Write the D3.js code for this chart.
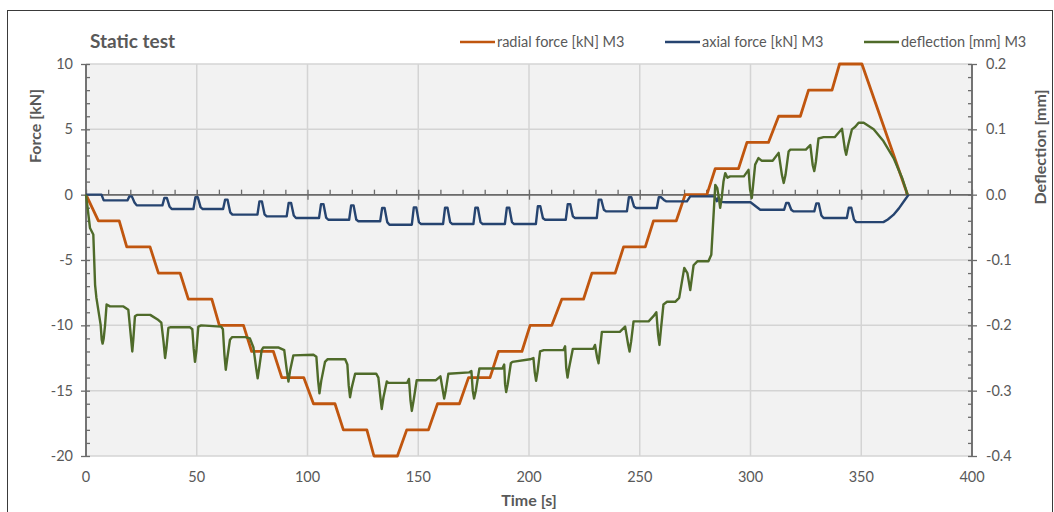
<!DOCTYPE html>
<html>
<head>
<meta charset="utf-8">
<script src="https://cdn.jsdelivr.net/npm/d3@7"></script>
<style>
  body { margin: 0; background: #fff; }
  text { font-family: Lato, "Open Sans", sans-serif; fill: #595959; }
</style>
</head>
<body>
<svg width="1054" height="512"></svg>
<script>
// Data: [time s, value]
const radialForce = [
  [0,0],[5.6,-2],[15,-2],[18.4,-4],[28.9,-4],[32.7,-6],[42.5,-6],[46.2,-8],[56.8,-8],
  [60.2,-10],[71.1,-10],[74.8,-12],[84.6,-12],[88.4,-14],[98.3,-14],[102.7,-16],[112.4,-16],
  [116.2,-18],[126.8,-18],[130,-20],[140.6,-20],[144.8,-18],[154.6,-18],[158.7,-16],[168.6,-16],
  [172.7,-14],[182.4,-14],[186.2,-12],[196.8,-12],[200.5,-10],[210.3,-10],[214.8,-8],[224.6,-8],
  [228.4,-6],[238.9,-6],[242.7,-4],[252.5,-4],[256.2,-2],[266.5,-2],[270.5,0],[280.3,0],
  [284.1,2],[294.6,2],[298.4,4],[308.1,4],[312.7,6],[322.5,6],[326.2,8],[336.8,8],
  [340.2,10],[350.3,10],[370.9,0]
];

const axialForce = [
  [0,0],[7,0],[8,-0.44],[18.7,-0.44],[19.6,-0.13],[20.7,-0.13],[21.9,-0.6],[22.9,-0.82],
  [34.5,-0.82],[35.4,-0.25],[36.5,-0.25],[37.7,-0.9],[38.7,-1.1],
  [48.5,-1.1],[49.4,-0.2],[50.5,-0.2],[51.7,-0.95],[52.7,-1.1],
  [61.9,-1.1],[62.8,-0.38],[63.9,-0.38],[65.1,-1.35],[66.1,-1.53],
  [77.4,-1.53],[78.3,-0.51],[79.4,-0.51],[80.6,-1.5],[81.6,-1.66],
  [90.6,-1.66],[91.5,-0.64],[92.6,-0.64],[93.8,-1.6],[94.8,-1.79],
  [105.2,-1.79],[106.1,-0.72],[107.2,-0.72],[108.4,-1.75],[109.4,-1.92],
  [118.8,-1.92],[119.7,-0.82],[120.8,-0.82],[122,-1.9],[123,-2.04],
  [132.8,-2.04],[133.7,-1.02],[134.8,-1.02],[136,-2.1],[137,-2.3],
  [147.1,-2.3],[148,-0.97],[149.1,-0.97],[150.3,-2.1],[151.3,-2.25],
  [161.2,-2.25],[162.1,-1.0],[163.2,-1.0],[164.4,-2.1],[165.4,-2.25],
  [174.9,-2.25],[175.8,-1.0],[176.9,-1.0],[178.1,-2.1],[179.1,-2.25],
  [189.1,-2.25],[190,-1.0],[191.1,-1.0],[192.3,-2.1],[193.3,-2.25],
  [203.1,-2.25],[204,-0.89],[205.1,-0.89],[206.3,-1.8],[207.3,-1.92],
  [216.6,-1.92],[217.5,-0.72],[218.6,-0.72],[219.8,-1.65],[220.8,-1.79],
  [230.6,-1.79],[231.5,-0.38],[232.6,-0.38],[233.8,-1.15],[234.8,-1.28],
  [244.2,-1.28],[245.1,-0.2],[246.2,-0.2],[247.4,-0.9],[248.4,-1.02],
  [257.7,-1.02],[258.6,-0.2],[259.7,-0.2],[260.9,-0.4],[261.9,-0.51],
  [271.3,-0.51],[272.8,-0.13],[283.8,-0.13],[284.8,-0.5],[285.6,-0.2],[286.4,-0.55],
  [289,-0.58],[300,-0.58],[304.4,-1.15],[315.2,-1.15],[316.1,-0.64],[317.2,-0.64],
  [318.4,-1.15],[319.4,-1.28],[328.8,-1.28],[329.7,-0.67],[330.8,-0.67],[332,-1.6],
  [333,-1.79],[343.5,-1.79],[344.4,-1.0],[345.5,-1.0],[346.7,-1.9],[347.7,-2.1],
  [360,-2.1],[362,-1.9],[364.5,-1.55],[367,-1.05],[369.5,-0.45],[371.4,0]
];

const deflection = [
  [0,0],[1.8,-0.051],[3.3,-0.061],[4.1,-0.138],[4.7,-0.158],[6.6,-0.199],[7.1,-0.222],[7.5,-0.228],
  [8,-0.22],[8.6,-0.2],[9.3,-0.168],[10.8,-0.171],[16.9,-0.171],[19.1,-0.176],[20.2,-0.215],[20.9,-0.24],[21.4,-0.22],[22.1,-0.186],
  [23,-0.184],[29,-0.184],[32.7,-0.192],[34,-0.196],[35,-0.225],[35.7,-0.25],[36.3,-0.235],[37.2,-0.204],[38,-0.203],
  [47,-0.203],[48,-0.206],[48.6,-0.235],[49.2,-0.256],[49.8,-0.24],[50.7,-0.202],[52,-0.2],[61,-0.202],[61.8,-0.206],
  [62.5,-0.245],[63.1,-0.268],[63.8,-0.25],[65,-0.222],[66,-0.218],[72,-0.218],[74,-0.22],[75.6,-0.234],[76.8,-0.265],[77.5,-0.281],
  [78.2,-0.265],[79.3,-0.238],[80,-0.234],[87,-0.234],[89.5,-0.238],[90.7,-0.27],[91.4,-0.286],[92.1,-0.27],[93.6,-0.246],[102.7,-0.245],
  [104,-0.248],[104.8,-0.285],[105.4,-0.304],[106.2,-0.285],[107.9,-0.256],[109,-0.252],[117,-0.252],[118,-0.26],[118.6,-0.292],[119.2,-0.31],
  [120,-0.295],[121.5,-0.274],[131,-0.274],[132,-0.28],[132.9,-0.31],[133.5,-0.328],[134.3,-0.31],[135.8,-0.286],[136.5,-0.288],[145,-0.288],
  [145.8,-0.282],[146.5,-0.315],[147.1,-0.331],[147.9,-0.315],[149.3,-0.284],[158,-0.284],[160,-0.278],[161.1,-0.3],[161.7,-0.312],
  [162.4,-0.3],[163.6,-0.274],[173,-0.272],[174,-0.27],[174.6,-0.3],[175.2,-0.312],[176,-0.3],[177.6,-0.266],[188,-0.266],[188.8,-0.26],
  [189.2,-0.29],[189.7,-0.302],[190.4,-0.29],[191.8,-0.258],[192.5,-0.256],[200.5,-0.252],[202,-0.25],[202.6,-0.272],[203.2,-0.285],
  [203.9,-0.27],[205,-0.24],[206.7,-0.238],[215.5,-0.238],[216.3,-0.232],[216.8,-0.265],[217.4,-0.28],[218.1,-0.265],[219.8,-0.236],
  [229,-0.236],[229.8,-0.23],[230.8,-0.25],[231.4,-0.258],[232.9,-0.21],[241,-0.21],[243.4,-0.202],
  [244.8,-0.23],[245.4,-0.24],[246.1,-0.225],[247.2,-0.194],[254,-0.194],[256.2,-0.186],[257.5,-0.18],[258.3,-0.215],[258.9,-0.23],
  [259.6,-0.205],[260.7,-0.168],[262.3,-0.164],[266,-0.164],[267.8,-0.158],[270.1,-0.112],[271.5,-0.12],
  [272.8,-0.146],[274.3,-0.108],[276,-0.102],[281,-0.102],[282.3,-0.092],[284.1,0.015],
  [285,0.01],[285.7,-0.005],[286.3,-0.02],[287,-0.005],[287.8,0.02],[288.6,0.033],[289.6,0.026],
  [290.8,0.028],[297,0.028],[299.1,0.038],[299.8,0.008],[300.6,-0.005],[302.1,0.046],
  [303.6,0.056],[305,0.052],[310,0.052],[312.7,0.064],[314.2,0.03],[315,0.018],[315.8,0.03],[317.2,0.066],[318,0.069],
  [325,0.069],[327,0.076],[328.1,0.045],[328.8,0.036],[329.5,0.05],[330.7,0.086],[333,0.088],[338,0.088],[341.3,0.101],
  [342.6,0.07],[343.2,0.061],[344,0.075],[345.8,0.1],[347.3,0.104],[348.8,0.11],[351.1,0.11],[355.6,0.1],[360,0.082],
  [364.6,0.056],[368.4,0.026],[370.9,0]
];

const xTicks = [0, 50, 100, 150, 200, 250, 300, 350, 400];
const forceTicks = [-20, -15, -10, -5, 0, 5, 10];
const deflTicks = [-0.4, -0.3, -0.2, -0.1, 0, 0.1, 0.2];

const series = [
  { name: "radial force [kN] M3", data: radialForce, axis: "left", color: "#c0560f", width: 2.8, lx: 460 },
  { name: "axial force [kN] M3", data: axialForce, axis: "left", color: "#264470", width: 2.4, lx: 665 },
  { name: "deflection [mm] M3", data: deflection, axis: "right", color: "#4f6b2a", width: 2.4, lx: 864 }
];

const plot = { left: 86, right: 972, top: 64, bottom: 456 };

const svg = d3.select("svg");

const x = d3.scaleLinear().domain([0, 400]).range([plot.left, plot.right]);
const yL = d3.scaleLinear().domain([-20, 10]).range([plot.bottom, plot.top]);
const yR = d3.scaleLinear().domain([-0.4, 0.2]).range([plot.bottom, plot.top]);

// chart border (cropped at the bottom in the reference)
svg.append("rect")
    .attr("x", 7.5).attr("y", 10.5)
    .attr("width", 1045).attr("height", 520)
    .style("fill", "none")
    .style("stroke", "#3a3a3a")
    .style("stroke-width", 1);

// plot background
svg.append("rect")
    .attr("x", plot.left).attr("y", plot.top)
    .attr("width", plot.right - plot.left).attr("height", plot.bottom - plot.top)
    .style("fill", "#f2f2f2");

// gridlines
svg.append("g").selectAll("line")
    .data(xTicks.slice(1, -1))
    .enter().append("line")
    .attr("x1", d => x(d)).attr("x2", d => x(d))
    .attr("y1", plot.top).attr("y2", plot.bottom)
    .style("stroke", "#d4d4d4").style("stroke-width", 1.5);

svg.append("g").selectAll("line")
    .data(forceTicks)
    .enter().append("line")
    .attr("x1", plot.left).attr("x2", plot.right)
    .attr("y1", d => yL(d)).attr("y2", d => yL(d))
    .style("stroke", "#d4d4d4").style("stroke-width", 1.5);

// axes
const axisColor = "#6b6b6b";

const left = svg.append("g").attr("transform", `translate(${plot.left},0)`);
left.call(d3.axisLeft(yL).tickValues(forceTicks).tickSize(5).tickFormat(""));
left.append("g").call(d3.axisRight(yL).ticks(30).tickSize(4).tickFormat(""));

const right = svg.append("g").attr("transform", `translate(${plot.right},0)`);
right.call(d3.axisRight(yR).tickValues(deflTicks).tickSize(5).tickFormat(""));
right.append("g").call(d3.axisLeft(yR).ticks(30).tickSize(4).tickFormat(""));

const bottom = svg.append("g").attr("transform", `translate(0,${yL(0)})`);
bottom.call(d3.axisTop(x).ticks(40).tickSize(5).tickFormat(""));
bottom.append("g").call(d3.axisBottom(x).tickValues(xTicks).tickSize(5).tickFormat(""));

svg.selectAll(".domain").style("stroke", axisColor).style("stroke-width", 1.5);
svg.selectAll(".tick line").style("stroke", axisColor).style("stroke-width", 1.3);
left.selectAll(".domain").attr("d", `M0,${plot.top}V${plot.bottom}`);
right.selectAll(".domain").attr("d", `M0,${plot.top}V${plot.bottom}`);
bottom.selectAll(".domain").attr("d", `M${plot.left},0H${plot.right}`);

// tick labels
svg.append("g").selectAll("text")
    .data(forceTicks)
    .enter().append("text")
    .attr("x", 73).attr("y", d => yL(d))
    .attr("dy", "0.35em")
    .attr("text-anchor", "end")
    .style("font-size", "14.5px")
    .text(d => d);

svg.append("g").selectAll("text")
    .data(deflTicks)
    .enter().append("text")
    .attr("x", 986).attr("y", d => yR(d))
    .attr("dy", "0.35em")
    .style("font-size", "14.5px")
    .text(d => d.toFixed(1));

svg.append("g").selectAll("text")
    .data(xTicks)
    .enter().append("text")
    .attr("x", d => x(d)).attr("y", 477)
    .attr("dy", "0.35em")
    .attr("text-anchor", "middle")
    .style("font-size", "14.5px")
    .text(d => d);

// axis titles
svg.append("text")
    .attr("transform", "translate(41,126) rotate(-90)")
    .attr("text-anchor", "middle")
    .style("font-size", "16px").style("font-weight", "bold")
    .text("Force [kN]");

svg.append("text")
    .attr("transform", "translate(1046,147) rotate(-90)")
    .attr("text-anchor", "middle")
    .style("font-size", "16px").style("font-weight", "bold")
    .text("Deflection [mm]");

svg.append("text")
    .attr("x", (plot.left + plot.right) / 2).attr("y", 506)
    .attr("text-anchor", "middle")
    .style("font-size", "16px").style("font-weight", "bold")
    .text("Time [s]");

svg.append("text")
    .attr("x", 90).attr("y", 48)
    .style("font-size", "19px").style("font-weight", "bold")
    .text("Static test");

// series lines
series.forEach(s => {
    const yScale = s.axis === "left" ? yL : yR;
    svg.append("path")
        .datum(s.data)
        .attr("d", d3.line().x(d => x(d[0])).y(d => yScale(d[1])))
        .style("fill", "none")
        .style("stroke", s.color)
        .style("stroke-width", s.width)
        .style("stroke-linejoin", "round");
});

// legend
const legend = svg.append("g").selectAll("g")
    .data(series)
    .enter().append("g")
    .attr("transform", d => `translate(${d.lx},42)`);

legend.append("line")
    .attr("x1", 0).attr("x2", 35)
    .style("stroke", d => d.color)
    .style("stroke-width", 2.5);

legend.append("text")
    .attr("x", 37).attr("dy", "0.35em")
    .style("font-size", "14.5px")
    .text(d => d.name);
</script>
</body>
</html>
